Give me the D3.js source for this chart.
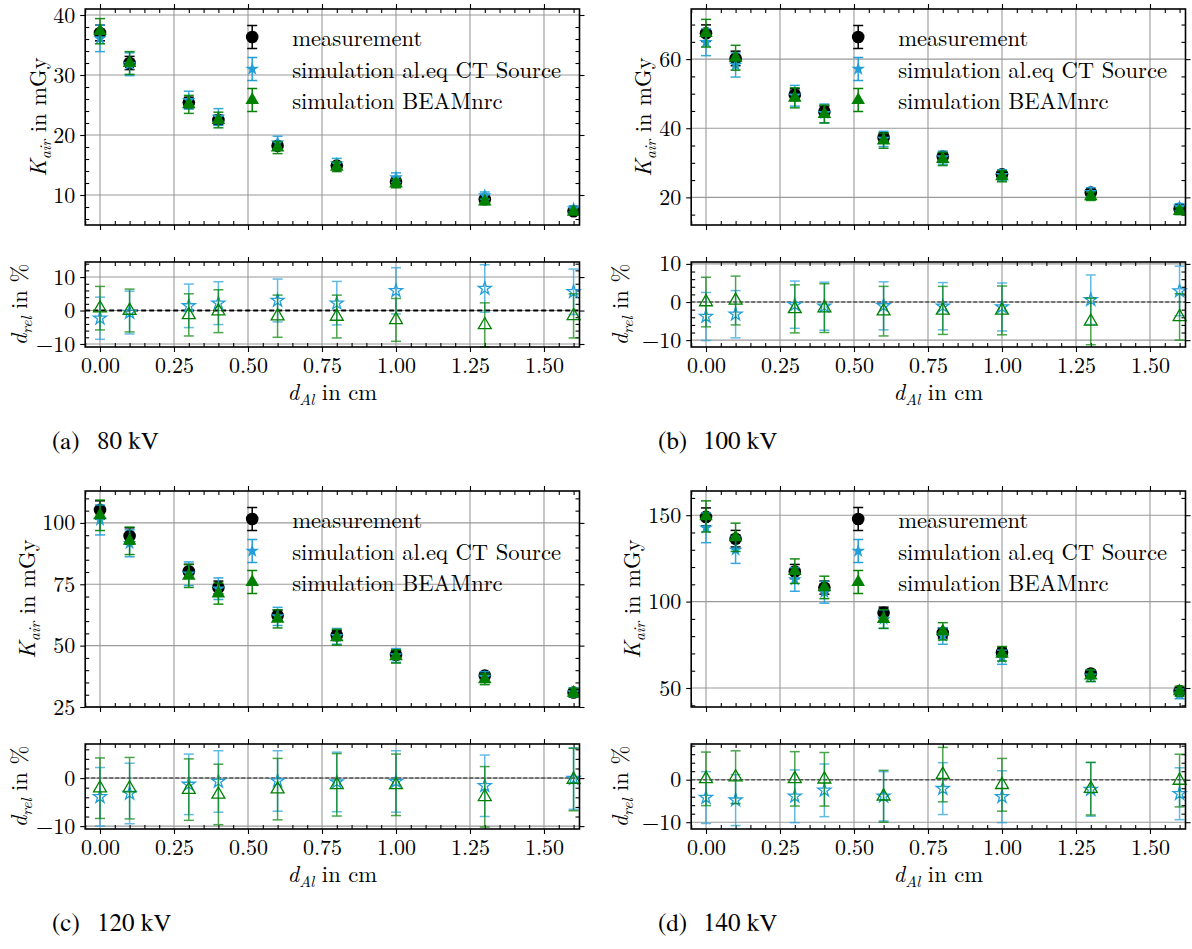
<!DOCTYPE html>
<html>
<head>
<meta charset="utf-8">
<script src="https://cdn.jsdelivr.net/npm/d3@7"></script>
<style>
  body { margin: 0; background: #fff; }
  svg { display: block; }
</style>
</head>
<body>
<svg id="fig" width="1192" height="949"></svg>
<script>
// Aluminium filter thickness in cm
const thickness = [0, 0.1, 0.3, 0.4, 0.6, 0.8, 1.0, 1.3, 1.6];
const xTicks = [0, 0.25, 0.5, 0.75, 1.0, 1.25, 1.5];
const xTickLabels = ["0.00", "0.25", "0.50", "0.75", "1.00", "1.25", "1.50"];
const seriesLabels = ["measurement", "simulation al.eq CT Source", "simulation BEAMnrc"];
const panelLetters = ["(a)", "(b)", "(c)", "(d)"];
const panelVoltages = ["80 kV", "100 kV", "120 kV", "140 kV"];

// 80 kV: air kerma in mGy
const kair80Meas     = [37.0, 32.0, 25.4, 22.5, 18.2, 14.9, 12.2, 9.3, 7.3];
const kair80MeasErr  = [1.3, 1.1, 0.9, 0.8, 0.6, 0.5, 0.4, 0.3, 0.3];
const kair80AlEq     = [36.1, 31.8, 25.8, 23.0, 18.7, 15.2, 12.9, 9.9, 7.7];
const kair80AlEqErr  = [2.2, 1.9, 1.5, 1.4, 1.1, 0.9, 0.8, 0.6, 0.5];
const kair80Beam     = [37.3, 32.0, 25.1, 22.5, 17.9, 14.7, 11.9, 8.9, 7.2];
const kair80BeamErr  = [2.1, 1.9, 1.5, 1.3, 1.0, 0.8, 0.7, 0.5, 0.4];
// 80 kV: relative deviation in %
const rel80AlEq      = [-2.3, -0.6, 1.4, 2.2, 3.0, 2.2, 5.9, 6.6, 5.6];
const rel80AlEqErr   = [6.3, 6.4, 6.5, 6.4, 6.4, 6.5, 6.9, 7.1, 6.8];
const rel80Beam      = [0.7, 0.0, -1.3, -0.2, -1.7, -1.8, -2.8, -4.3, -1.6];
const rel80BeamErr   = [6.5, 6.4, 6.3, 6.4, 6.3, 6.4, 6.4, 6.6, 6.6];

// 100 kV
const kair100Meas    = [67.5, 60.2, 49.7, 44.8, 37.3, 31.8, 26.7, 21.4, 16.7];
const kair100MeasErr = [2.4, 2.1, 1.7, 1.6, 1.3, 1.1, 0.9, 0.8, 0.6];
const kair100AlEq    = [64.9, 58.3, 49.4, 44.3, 36.9, 31.5, 26.4, 21.5, 17.2];
const kair100AlEqErr = [3.9, 3.5, 3.0, 2.7, 2.2, 1.9, 1.6, 1.3, 1.0];
const kair100Beam    = [67.5, 60.4, 48.8, 44.1, 36.4, 31.1, 26.1, 20.3, 16.0];
const kair100BeamErr = [4.0, 3.6, 2.9, 2.6, 2.2, 1.9, 1.6, 1.2, 1.0];
const rel100AlEq     = [-3.8, -3.2, -0.7, -1.1, -1.0, -1.1, -1.3, 0.6, 2.9];
const rel100AlEqErr  = [6.3, 6.2, 6.2, 6.3, 6.3, 6.2, 6.3, 6.5, 6.5];
const rel100Beam     = [0.0, 0.4, -1.8, -1.6, -2.4, -2.2, -2.2, -5.1, -3.9];
const rel100BeamErr  = [6.5, 6.4, 6.3, 6.4, 6.5, 6.3, 6.4, 6.1, 6.1];

// 120 kV
const kair120Meas    = [105.3, 94.7, 80.3, 73.7, 62.3, 54.2, 46.3, 37.8, 30.9];
const kair120MeasErr = [3.7, 3.3, 2.8, 2.6, 2.2, 1.9, 1.6, 1.3, 1.1];
const kair120AlEq    = [101.2, 91.7, 79.3, 73.2, 61.9, 53.8, 46.0, 37.2, 30.9];
const kair120AlEqErr = [6.1, 5.5, 4.8, 4.4, 3.7, 3.2, 2.8, 2.2, 1.9];
const kair120Beam    = [103.1, 92.7, 78.4, 71.2, 60.9, 53.4, 45.6, 36.3, 30.8];
const kair120BeamErr = [6.2, 5.6, 4.7, 4.3, 3.7, 3.2, 2.7, 2.2, 1.8];
const rel120AlEq     = [-3.9, -3.2, -1.3, -0.7, -0.6, -0.8, -0.7, -1.6, -0.1];
const rel120AlEqErr  = [6.1, 6.3, 6.3, 6.4, 6.3, 6.2, 6.4, 6.4, 6.4];
const rel120Beam     = [-2.1, -2.1, -2.4, -3.4, -2.3, -1.4, -1.4, -3.9, -0.3];
const rel120BeamErr  = [6.3, 6.4, 6.4, 6.3, 6.4, 6.5, 6.4, 6.3, 6.5];

// 140 kV
const kair140Meas    = [149.0, 136.4, 117.4, 108.1, 93.5, 81.8, 70.6, 58.4, 48.2];
const kair140MeasErr = [5.2, 4.8, 4.1, 3.8, 3.3, 2.9, 2.5, 2.0, 1.7];
const kair140AlEq    = [142.7, 129.9, 112.8, 105.4, 89.9, 80.1, 67.8, 57.1, 46.6];
const kair140AlEqErr = [8.6, 7.8, 6.8, 6.3, 5.4, 4.8, 4.1, 3.4, 2.8];
const kair140Beam    = [149.3, 137.2, 117.6, 108.2, 89.9, 82.8, 69.8, 57.2, 48.1];
const kair140BeamErr = [9.0, 8.2, 7.1, 6.5, 5.4, 5.0, 4.2, 3.4, 2.9];
const rel140AlEq     = [-4.2, -4.8, -3.9, -2.5, -3.9, -2.1, -4.0, -2.3, -3.3];
const rel140AlEqErr  = [6.1, 6.0, 6.2, 6.2, 5.8, 6.1, 6.1, 6.3, 6.1];
const rel140Beam     = [0.2, 0.6, 0.2, 0.1, -3.9, 1.2, -1.2, -2.1, -0.2];
const rel140BeamErr  = [6.3, 6.2, 6.4, 6.3, 6.1, 6.4, 6.2, 6.2, 6.2];

// Tick values of the y axes
const kTicks80 = [10, 20, 30, 40];
const kTicks100 = [20, 40, 60];
const kTicks120 = [25, 50, 75, 100];
const kTicks140 = [50, 100, 150];
const relTicksWide = [-10, 0, 10];
const relTicksNarrow = [-10, 0];

// ---------------------------------------------------------------- style
const SERIF = '"Latin Modern Roman", "Liberation Serif", serif';
const TIMES = '"FreeSerif", "Latin Modern Roman", serif';
const C_MEAS = "#000000";
const C_ALEQ = "#229fd9";
const C_BEAM = "#008000";
const GRID = "#9a9a9a";

// ---------------------------------------------------------------- layout
const colLeft = [85.2, 691.2];
const rowShift = [0, 482];
const plotW = 494.3;
const mainTop = 9, mainH = 216;
const relTop = 262, relH = 85;
const xDomain = [-0.05, 1.62];

const panels = [
  { letter: panelLetters[0], voltage: panelVoltages[0], col: 0, row: 0,
    meas: kair80Meas, measErr: kair80MeasErr, alEq: kair80AlEq, alEqErr: kair80AlEqErr,
    beam: kair80Beam, beamErr: kair80BeamErr,
    relAlEq: rel80AlEq, relAlEqErr: rel80AlEqErr, relBeam: rel80Beam, relBeamErr: rel80BeamErr,
    kTicks: kTicks80, kStep: 10, kMinor: 2, kDomain: [5, 41],
    relTicks: relTicksWide, relDomain: [-10.9, 14.5],
    kLabelX: 46, relLabelX: 27, zeroDark: true },
  { letter: panelLetters[1], voltage: panelVoltages[1], col: 1, row: 0,
    meas: kair100Meas, measErr: kair100MeasErr, alEq: kair100AlEq, alEqErr: kair100AlEqErr,
    beam: kair100Beam, beamErr: kair100BeamErr,
    relAlEq: rel100AlEq, relAlEqErr: rel100AlEqErr, relBeam: rel100Beam, relBeamErr: rel100BeamErr,
    kTicks: kTicks100, kStep: 20, kMinor: 5, kDomain: [12, 74.5],
    relTicks: relTicksWide, relDomain: [-11.8, 10.5],
    kLabelX: 651, relLabelX: 628, zeroDark: false },
  { letter: panelLetters[2], voltage: panelVoltages[2], col: 0, row: 1,
    meas: kair120Meas, measErr: kair120MeasErr, alEq: kair120AlEq, alEqErr: kair120AlEqErr,
    beam: kair120Beam, beamErr: kair120BeamErr,
    relAlEq: rel120AlEq, relAlEqErr: rel120AlEqErr, relBeam: rel120Beam, relBeamErr: rel120BeamErr,
    kTicks: kTicks120, kStep: 25, kMinor: 5, kDomain: [25, 113],
    relTicks: relTicksNarrow, relDomain: [-10.6, 7.1],
    kLabelX: 35, relLabelX: 27, zeroDark: false },
  { letter: panelLetters[3], voltage: panelVoltages[3], col: 1, row: 1,
    meas: kair140Meas, measErr: kair140MeasErr, alEq: kair140AlEq, alEqErr: kair140AlEqErr,
    beam: kair140Beam, beamErr: kair140BeamErr,
    relAlEq: rel140AlEq, relAlEqErr: rel140AlEqErr, relBeam: rel140Beam, relBeamErr: rel140BeamErr,
    kTicks: kTicks140, kStep: 50, kMinor: 10, kDomain: [39, 164],
    relTicks: relTicksNarrow, relDomain: [-11.6, 8.4],
    kLabelX: 640, relLabelX: 628, zeroDark: false }
];

const svg = d3.select("#fig");
svg.append("rect").attr("width", 1192).attr("height", 949).attr("fill", "#fff");

const starPath = (size) => d3.symbol(d3.symbolStar, size)();
const triPath = (size) => d3.symbol(d3.symbolTriangle, size)();

function minorValues(domain, step, majorStep) {
  const out = [];
  const i0 = Math.ceil(domain[0] / step - 1e-9), i1 = Math.floor(domain[1] / step + 1e-9);
  for (let i = i0; i <= i1; i++) {
    const v = +(i * step).toFixed(6);
    const r = v / majorStep;
    if (Math.abs(r - Math.round(r)) > 1e-6) out.push(v);
  }
  return out;
}

function styleAxis(sel, fontSize) {
  sel.attr("font-family", null).attr("font-size", null);
  sel.select(".domain").remove();
  sel.selectAll("line").attr("stroke", "#000").attr("stroke-width", 1.1);
  sel.selectAll("text").style("font-family", SERIF).style("font-size", fontSize + "px").attr("fill", "#000");
}

// gridlines and ticks on all four sides of one axes box
function drawBox(g, x, y, yTicks, yMinor, xLabels) {
  const [x0, x1] = x.range();
  const [yb, yt] = y.range();
  const grid = g.append("g").attr("stroke", GRID).attr("stroke-width", 1.1);
  grid.selectAll("line.gx").data(xTicks).join("line")
    .attr("x1", d => x(d)).attr("x2", d => x(d)).attr("y1", yt).attr("y2", yb);
  grid.selectAll("line.gy").data(yTicks).join("line")
    .attr("x1", x0).attr("x2", x1).attr("y1", d => y(d)).attr("y2", d => y(d));

  const xMinor = minorValues(xDomain, 0.05, 0.25);
  const fmtY = d3.format("d");
  const fmtX = (d) => xTickLabels[xTicks.indexOf(d)];

  const axes = g.append("g").attr("class", "axes");
  axes.append("g").attr("transform", `translate(${x0},0)`)
    .call(d3.axisLeft(y).tickValues(yTicks).tickSize(5).tickPadding(5).tickFormat(fmtY))
    .call(s => styleAxis(s, 22));
  axes.append("g").attr("transform", `translate(${x0},0)`)
    .call(d3.axisLeft(y).tickValues(yMinor).tickSize(-4).tickFormat(""))
    .call(s => styleAxis(s, 22));
  axes.append("g").attr("transform", `translate(${x1},0)`)
    .call(d3.axisRight(y).tickValues(yTicks).tickSize(5).tickFormat(""))
    .call(s => styleAxis(s, 22));
  axes.append("g").attr("transform", `translate(${x1},0)`)
    .call(d3.axisRight(y).tickValues(yMinor).tickSize(-4).tickFormat(""))
    .call(s => styleAxis(s, 22));
  axes.append("g").attr("transform", `translate(0,${yb})`)
    .call(d3.axisBottom(x).tickValues(xTicks).tickSize(5).tickPadding(5).tickFormat(xLabels ? fmtX : ""))
    .call(s => styleAxis(s, 22));
  axes.append("g").attr("transform", `translate(0,${yb})`)
    .call(d3.axisBottom(x).tickValues(xMinor).tickSize(-4).tickFormat(""))
    .call(s => styleAxis(s, 22));
  axes.append("g").attr("transform", `translate(0,${yt})`)
    .call(d3.axisTop(x).tickValues(xTicks).tickSize(5).tickFormat(""))
    .call(s => styleAxis(s, 22));
  axes.append("g").attr("transform", `translate(0,${yt})`)
    .call(d3.axisTop(x).tickValues(xMinor).tickSize(-4).tickFormat(""))
    .call(s => styleAxis(s, 22));
}

function drawFrame(g, x, y) {
  const [x0, x1] = x.range();
  const [yb, yt] = y.range();
  g.append("rect").attr("x", x0).attr("y", yt).attr("width", x1 - x0).attr("height", yb - yt)
    .attr("fill", "none").attr("stroke", "#000").attr("stroke-width", 1.6);
}

// vertical error bars with caps
function errorBars(g, xs, ys, es, x, y, color, opacity) {
  const rows = xs.map((xv, i) => ({ cx: x(xv), top: y(ys[i] + es[i]), bot: y(ys[i] - es[i]) }));
  const grp = g.append("g").attr("stroke", color).attr("stroke-width", 1.5).attr("opacity", opacity);
  grp.selectAll("line.v").data(rows).join("line")
    .attr("x1", d => d.cx).attr("x2", d => d.cx).attr("y1", d => d.top).attr("y2", d => d.bot);
  grp.selectAll("line.t").data(rows).join("line")
    .attr("x1", d => d.cx - 5).attr("x2", d => d.cx + 5).attr("y1", d => d.top).attr("y2", d => d.top);
  grp.selectAll("line.b").data(rows).join("line")
    .attr("x1", d => d.cx - 5).attr("x2", d => d.cx + 5).attr("y1", d => d.bot).attr("y2", d => d.bot);
}

function markers(g, xs, ys, x, y, kind, color, filled) {
  const pts = xs.map((xv, i) => [x(xv), y(ys[i])]);
  const sel = g.append("g").selectAll("path").data(pts).join("path")
    .attr("transform", d => `translate(${d[0]},${d[1]})`);
  if (kind === "circle") sel.attr("d", d3.symbol(d3.symbolCircle, 125)());
  if (kind === "star") sel.attr("d", starPath(filled ? 60 : 52));
  if (kind === "triangle") sel.attr("d", triPath(filled ? 80 : 72));
  if (filled) sel.attr("fill", color).attr("stroke", "none");
  else sel.attr("fill", "none").attr("stroke", color).attr("stroke-width", 1.3);
}

// text with an italic symbol and italic subscript, e.g. K_air
function symbolLabel(sel, sym, sub, rest, size) {
  sel.style("font-family", SERIF).style("font-size", size + "px").attr("fill", "#000");
  sel.append("tspan").style("font-style", "italic").text(sym);
  sel.append("tspan").style("font-style", "italic").style("font-size", (size * 0.7) + "px").attr("dy", 5).text(sub);
  sel.append("tspan").attr("dy", -5).text(rest);
}

function plainText(sel, size, family) {
  return sel.style("font-family", family || SERIF).style("font-size", size + "px").attr("fill", "#000");
}

panels.forEach(p => {
  const left = colLeft[p.col];
  const shift = rowShift[p.row];
  const g = svg.append("g");
  const x = d3.scaleLinear().domain(xDomain).range([left, left + plotW]);

  // ---------- air kerma
  const yK = d3.scaleLinear().domain(p.kDomain).range([shift + mainTop + mainH, shift + mainTop]);
  const gK = g.append("g");
  drawBox(gK, x, yK, p.kTicks, minorValues(p.kDomain, p.kMinor, p.kStep), false);
  const dataK = gK.append("g");
  errorBars(dataK, thickness, p.meas, p.measErr, x, yK, C_MEAS, 1);
  markers(dataK, thickness, p.meas, x, yK, "circle", C_MEAS, true);
  errorBars(dataK, thickness, p.alEq, p.alEqErr, x, yK, C_ALEQ, 0.9);
  markers(dataK, thickness, p.alEq, x, yK, "star", C_ALEQ, true);
  errorBars(dataK, thickness, p.beam, p.beamErr, x, yK, C_BEAM, 0.9);
  markers(dataK, thickness, p.beam, x, yK, "triangle", C_BEAM, true);
  drawFrame(gK, x, yK);

  // legend
  const lg = gK.append("g");
  const legX = left + 167, textX = left + 207;
  const legRows = [shift + 37, shift + 69, shift + 100];
  const legColors = [C_MEAS, C_ALEQ, C_BEAM];
  const legKinds = ["circle", "star", "triangle"];
  legRows.forEach((ry, i) => {
    const bar = lg.append("g").attr("stroke", legColors[i]).attr("stroke-width", 1.5);
    bar.append("line").attr("x1", legX).attr("x2", legX).attr("y1", ry - 11.5).attr("y2", ry + 11.5);
    bar.append("line").attr("x1", legX - 5).attr("x2", legX + 5).attr("y1", ry - 11.5).attr("y2", ry - 11.5);
    bar.append("line").attr("x1", legX - 5).attr("x2", legX + 5).attr("y1", ry + 11.5).attr("y2", ry + 11.5);
    const k = legKinds[i];
    const d = k === "circle" ? d3.symbol(d3.symbolCircle, 125)() : k === "star" ? starPath(60) : triPath(80);
    lg.append("path").attr("d", d).attr("transform", `translate(${legX},${ry})`).attr("fill", legColors[i]);
    plainText(lg.append("text").attr("x", textX).attr("y", ry + 9), 22.6).text(seriesLabels[i]);
  });

  // y label
  const kMid = shift + mainTop + mainH / 2;
  symbolLabel(gK.append("text").attr("text-anchor", "middle")
    .attr("transform", `translate(${p.kLabelX},${kMid}) rotate(-90)`), "K", "air", " in mGy", 22.6);

  // ---------- relative deviation
  const yR = d3.scaleLinear().domain(p.relDomain).range([shift + relTop + relH, shift + relTop]);
  const gR = g.append("g");
  drawBox(gR, x, yR, p.relTicks, minorValues(p.relDomain, 2, 10), true);
  gR.append("line").attr("x1", left).attr("x2", left + plotW)
    .attr("y1", yR(0)).attr("y2", yR(0))
    .attr("stroke", p.zeroDark ? "#000" : "#555")
    .attr("stroke-width", p.zeroDark ? 2 : 1.5)
    .attr("stroke-dasharray", p.zeroDark ? "5,3" : "4,2");
  const dataR = gR.append("g");
  errorBars(dataR, thickness, p.relAlEq, p.relAlEqErr, x, yR, C_ALEQ, 0.7);
  markers(dataR, thickness, p.relAlEq, x, yR, "star", C_ALEQ, false);
  errorBars(dataR, thickness, p.relBeam, p.relBeamErr, x, yR, C_BEAM, 0.7);
  markers(dataR, thickness, p.relBeam, x, yR, "triangle", C_BEAM, false);
  drawFrame(gR, x, yR);

  const rMid = shift + relTop + relH / 2;
  symbolLabel(gR.append("text").attr("text-anchor", "middle")
    .attr("transform", `translate(${p.relLabelX},${rMid}) rotate(-90)`), "d", "rel", " in %", 22.6);

  // x label
  symbolLabel(gR.append("text").attr("text-anchor", "middle")
    .attr("x", left + plotW / 2).attr("y", shift + 400), "d", "Al", " in cm", 22.6);

  // caption
  const capX = p.col === 0 ? 52 : 658;
  plainText(g.append("text").attr("x", capX).attr("y", shift + 449), 25, TIMES).text(p.letter);
  plainText(g.append("text").attr("x", capX + 45).attr("y", shift + 449), 25, TIMES).text(p.voltage);
});
</script>
</body>
</html>
